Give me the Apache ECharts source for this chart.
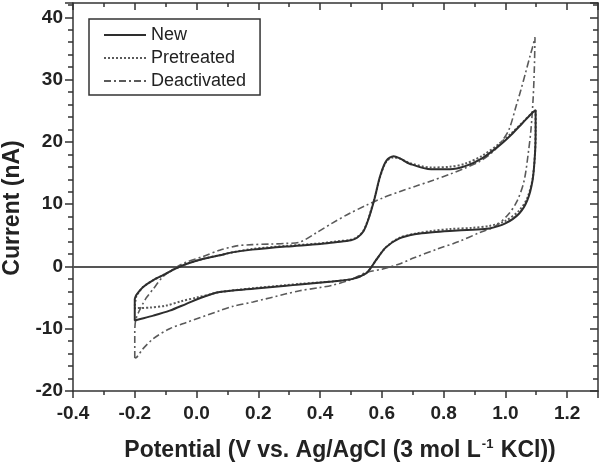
<!DOCTYPE html>
<html>
<head>
<meta charset="utf-8">
<script src="https://cdn.jsdelivr.net/npm/echarts@6/dist/echarts.min.js"></script>
<style>html,body{margin:0;padding:0;background:#fff;}#c{width:601px;height:467px;}</style>
</head>
<body>
<div id="c"></div>
<script>
// ---- data ----
const seriesNames = ['New', 'Pretreated', 'Deactivated'];
const xTickLabels = ['-0.4', '-0.2', '0.0', '0.2', '0.4', '0.6', '0.8', '1.0', '1.2'];
const yTickLabels = ['-20', '-10', '0', '10', '20', '30', '40'];

const newX = [-0.2, -0.195, -0.189, -0.173, -0.14, -0.108, -0.07, -0.033, 0.02, 0.075, 0.12, 0.18, 0.29, 0.4, 0.45, 0.5, 0.52, 0.54, 0.556, 0.576, 0.595, 0.615, 0.638, 0.66, 0.69, 0.76, 0.82, 0.87, 0.926, 0.98, 1.02, 1.055, 1.09, 1.098,
  1.098, 1.096, 1.088, 1.071, 1.045, 1.0, 0.948, 0.894, 0.82, 0.764, 0.711, 0.657, 0.614, 0.581, 0.565, 0.549, 0.506, 0.44, 0.334, 0.29, 0.183, 0.075, 0.021, -0.033, -0.087, -0.14, -0.194, -0.2, -0.2];
const newY = [-5.2, -4.6, -4.2, -3.3, -2.2, -1.4, -0.4, 0.4, 1.2, 1.8, 2.3, 2.7, 3.2, 3.6, 3.9, 4.2, 4.6, 5.6, 7.5, 10.8, 14.6, 17.0, 17.7, 17.3, 16.5, 15.6, 15.6, 16.1, 17.4, 19.4, 21.2, 23.0, 24.8, 25.1,
  22.0, 18.1, 13.8, 10.6, 8.5, 6.9, 6.1, 5.9, 5.7, 5.5, 5.2, 4.5, 3.1, 1.0, -0.2, -1.1, -2.0, -2.4, -2.9, -3.1, -3.6, -4.1, -4.9, -6.0, -7.1, -7.9, -8.6, -8.7, -5.2];

const pretreatedX = [-0.2, -0.195, -0.189, -0.173, -0.14, -0.108, -0.07, -0.033, 0.02, 0.075, 0.12, 0.18, 0.29, 0.4, 0.45, 0.5, 0.52, 0.54, 0.556, 0.576, 0.595, 0.615, 0.638, 0.66, 0.69, 0.76, 0.82, 0.87, 0.926, 0.98, 1.02, 1.055, 1.09, 1.098,
  1.098, 1.096, 1.088, 1.071, 1.045, 1.0, 0.948, 0.894, 0.82, 0.764, 0.711, 0.657, 0.614, 0.581, 0.565, 0.549, 0.506, 0.44, 0.334, 0.29, 0.183, 0.075, 0.05, 0.0, -0.05, -0.1, -0.15, -0.2, -0.2];
const pretreatedY = [-6.3, -4.8, -4.3, -3.3, -2.2, -1.4, -0.4, 0.4, 1.2, 1.8, 2.3, 2.8, 3.3, 3.7, 4.0, 4.3, 4.7, 5.7, 7.6, 10.9, 14.5, 16.9, 17.5, 17.3, 16.6, 15.9, 16.0, 16.5, 17.8, 19.7, 21.4, 23.1, 24.8, 25.0,
  22.0, 18.2, 14.0, 11.0, 9.0, 7.3, 6.5, 6.2, 6.0, 5.7, 5.3, 4.6, 3.1, 1.0, -0.2, -1.1, -2.0, -2.4, -2.8, -3.0, -3.5, -4.1, -4.4, -5.0, -5.6, -6.3, -6.6, -6.7, -6.3];

const deactivatedX = [-0.2, -0.2, -0.197, -0.188, -0.175, -0.162, -0.14, -0.108, -0.065, -0.033, 0.021, 0.075, 0.13, 0.18, 0.24, 0.29, 0.334, 0.388, 0.441, 0.495, 0.549, 0.603, 0.657, 0.711, 0.764, 0.82, 0.87, 0.915, 0.96, 0.99, 1.012, 1.034, 1.05, 1.066, 1.08, 1.088, 1.096,
  1.094, 1.09, 1.083, 1.075, 1.061, 1.039, 1.012, 0.969, 0.915, 0.85, 0.78, 0.70, 0.657, 0.603, 0.549, 0.495, 0.441, 0.398, 0.334, 0.29, 0.183, 0.118, 0.075, -0.033, -0.087, -0.14, -0.173, -0.194, -0.2];
const deactivatedY = [-14.7, -10.5, -8.6, -7.4, -6.1, -5.0, -3.6, -1.6, -0.1, 0.7, 1.6, 2.6, 3.3, 3.5, 3.6, 3.7, 3.9, 5.4, 7.0, 8.5, 9.8, 11.0, 12.0, 12.9, 13.8, 14.8, 15.8, 16.8, 18.4, 20.2, 22.0, 25.6, 28.3, 31.2, 33.8, 35.2, 36.8,
  32.0, 27.0, 22.0, 18.5, 13.8, 10.6, 8.5, 6.5, 5.4, 4.0, 2.8, 1.3, 0.4, -0.4, -1.0, -2.2, -3.0, -3.4, -3.9, -4.4, -5.7, -6.4, -7.1, -9.0, -10.0, -11.6, -13.2, -14.6, -14.7];

// ---- chart ----
const FONT = '"Liberation Sans", Arial, sans-serif';
const AX = '#333';
const TXT = '#222';
const zip = (xs, ys) => xs.map((x, i) => [x, ys[i]]);

const X_MIN = -0.4, X_MAX = 1.3, Y_MIN = -20, Y_MAX = 42.3;

function xAxisDef(pos, interval, len, inside, showLine, showLabel) {
  return {
    type: 'value', position: pos, min: X_MIN, max: X_MAX, interval: interval,
    axisLine: { show: showLine, onZero: false, lineStyle: { color: AX, width: 1.5 } },
    axisTick: { show: true, inside: inside, length: len, lineStyle: { color: AX, width: 1.5 } },
    splitLine: { show: false },
    axisLabel: showLabel ? {
      show: true, margin: 13, color: TXT, fontSize: 19, fontWeight: 'bold', fontFamily: FONT,
      formatter: v => { const s = v.toFixed(1); return xTickLabels.indexOf(s) >= 0 ? s : ''; }
    } : { show: false }
  };
}
function yAxisDef(pos, interval, len, inside, showLine, showLabel) {
  return {
    type: 'value', position: pos, min: Y_MIN, max: Y_MAX, interval: interval,
    axisLine: { show: showLine, onZero: false, lineStyle: { color: AX, width: 1.5 } },
    axisTick: { show: true, inside: inside, length: len, lineStyle: { color: AX, width: 1.5 } },
    splitLine: { show: false },
    axisLabel: showLabel ? {
      show: true, margin: 10, color: TXT, fontSize: 19, fontWeight: 'bold', fontFamily: FONT,
      formatter: v => { const s = String(Math.round(v)); return (Math.abs(v - Math.round(v)) < 1e-6 && yTickLabels.indexOf(s) >= 0) ? s : ''; }
    } : { show: false }
  };
}

const styles = [
  { color: '#2e2e2e', width: 2, type: 'solid' },
  { color: '#5a5a5a', width: 2, type: 'dotted' },
  { color: '#5a5a5a', width: 1.6, type: [7, 3, 2, 3] }
];
const dataSets = [zip(newX, newY), zip(pretreatedX, pretreatedY), zip(deactivatedX, deactivatedY)];

const series = seriesNames.map((name, i) => ({
  name: name, type: 'line', xAxisIndex: 0, yAxisIndex: 0,
  data: dataSets[i], symbol: 'none', showSymbol: false, smooth: 0.3,
  lineStyle: styles[i], itemStyle: { color: styles[i].color },
  z: 5 - i, animation: false
}));
series[0].markLine = {
  silent: true, symbol: ['none', 'none'], animation: false,
  label: { show: false },
  lineStyle: { color: '#555', width: 2, type: 'solid' },
  data: [{ yAxis: 0 }]
};

const chart = echarts.init(document.getElementById('c'), null, { renderer: 'canvas' });
chart.setOption({
  animation: false,
  backgroundColor: '#fff',
  grid: { left: 73, right: 3, top: 3, bottom: 76, containLabel: false },
  xAxis: [
    xAxisDef('bottom', 0.2, 7, false, true, true),
    xAxisDef('bottom', 0.1, 4, false, false, false),
    xAxisDef('top', 0.2, 7, true, true, false),
    xAxisDef('top', 0.1, 4, true, false, false)
  ],
  yAxis: [
    yAxisDef('left', 10, 8, false, true, true),
    yAxisDef('left', 2, 5, false, false, false),
    yAxisDef('right', 10, 8, true, true, false),
    yAxisDef('right', 2, 5, true, false, false)
  ],
  legend: {
    orient: 'vertical', left: 89, top: 19,
    padding: [7, 14, 5, 14], itemGap: 5, itemWidth: 42, itemHeight: 18,
    borderColor: '#333', borderWidth: 1.5, backgroundColor: '#fff',
    itemStyle: { opacity: 0 },
    textStyle: { fontSize: 18, fontFamily: FONT, color: TXT },
    data: seriesNames
  },
  graphic: [
    {
      type: 'text', x: 13, y: 208, rotation: Math.PI / 2,
      style: { text: 'Current (nA)', font: 'bold 23px ' + FONT, fill: TXT, align: 'center', verticalAlign: 'middle' }
    },
    {
      type: 'text', x: 340, y: 451,
      style: {
        text: '{a|Potential (V vs. Ag/AgCl (3 mol L}{s|-1}{a| KCl))}',
        align: 'center', verticalAlign: 'middle',
        rich: {
          a: { fontSize: 23, fontWeight: 'bold', fontFamily: FONT, fill: TXT },
          s: { fontSize: 13, fontWeight: 'bold', fontFamily: FONT, fill: TXT, padding: [0, 1, 14, 1] }
        }
      }
    }
  ],
  series: series
});
</script>
</body>
</html>
